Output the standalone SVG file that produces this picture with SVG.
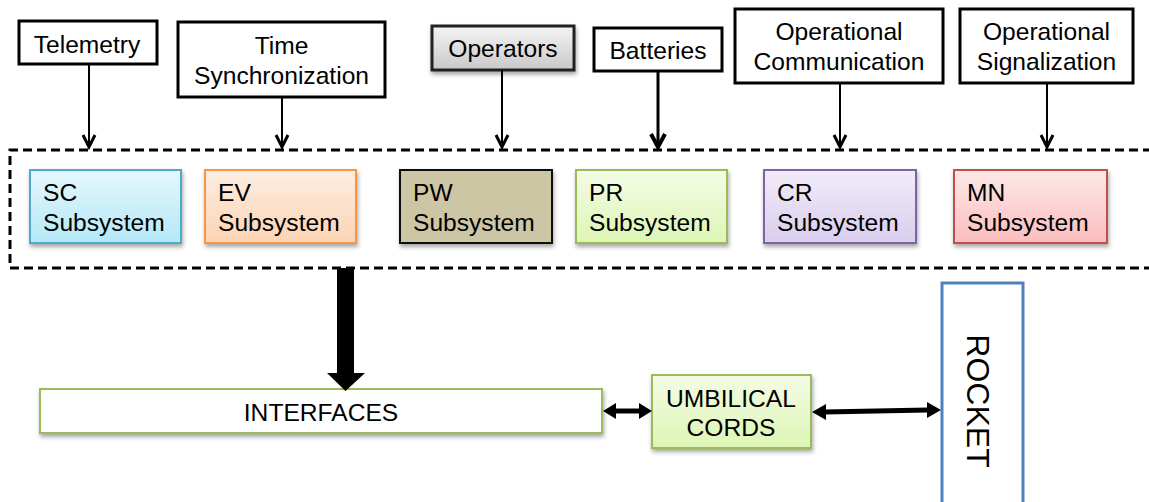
<svg xmlns="http://www.w3.org/2000/svg" width="1149" height="502" viewBox="0 0 1149 502">
  <style>
    text { font-family: "Liberation Sans", Arial, sans-serif; font-size: 24.6px; fill: #000; }
    .mid { text-anchor: middle; }
    .src { fill: #fff; stroke: #000; stroke-width: 3; }
    .sub { stroke-width: 2; filter: url(#shadow); }
    .thin { fill: none; stroke: #000; stroke-width: 2; }
    .head { fill: none; stroke: #000; stroke-width: 3; stroke-linejoin: miter; }
    .bold { fill: none; stroke: #000; stroke-width: 5; }
  </style>
  <defs>
    <filter id="shadow" x="-10%" y="-20%" width="130%" height="160%">
      <feDropShadow dx="1" dy="3" stdDeviation="2" flood-color="#000" flood-opacity="0.35"/>
    </filter>
    <linearGradient id="gGray" x1="0" y1="0" x2="0" y2="1">
      <stop offset="0" stop-color="#f4f4f4"/>
      <stop offset="1" stop-color="#c9c9c9"/>
    </linearGradient>
    <linearGradient id="gBlue" x1="0" y1="0" x2="0" y2="1">
      <stop offset="0" stop-color="#e6f7fd"/>
      <stop offset="1" stop-color="#b3e8f7"/>
    </linearGradient>
    <linearGradient id="gOrange" x1="0" y1="0" x2="0" y2="1">
      <stop offset="0" stop-color="#fdeee2"/>
      <stop offset="1" stop-color="#fcd3b3"/>
    </linearGradient>
    <linearGradient id="gGreen" x1="0" y1="0" x2="0" y2="1">
      <stop offset="0" stop-color="#f4fce6"/>
      <stop offset="1" stop-color="#ddf5b5"/>
    </linearGradient>
    <linearGradient id="gPurple" x1="0" y1="0" x2="0" y2="1">
      <stop offset="0" stop-color="#f1ecf8"/>
      <stop offset="1" stop-color="#d9cdee"/>
    </linearGradient>
    <linearGradient id="gRed" x1="0" y1="0" x2="0" y2="1">
      <stop offset="0" stop-color="#fde8e8"/>
      <stop offset="1" stop-color="#fbbdbd"/>
    </linearGradient>
  </defs>

  <rect width="1149" height="502" fill="#fff"/>

  <!-- input sources -->
  <g id="telemetry">
    <rect class="src" x="19" y="21" width="138" height="43"/>
    <text class="mid" x="87" y="53">Telemetry</text>
  </g>
  <g id="time-sync">
    <rect class="src" x="178" y="22" width="207" height="75"/>
    <text class="mid" x="281.5" y="54">Time</text>
    <text class="mid" x="281.5" y="84">Synchronization</text>
  </g>
  <g id="operators">
    <rect x="432" y="26" width="142" height="44" fill="url(#gGray)" stroke="#222" stroke-width="3" filter="url(#shadow)"/>
    <text class="mid" x="503" y="57">Operators</text>
  </g>
  <g id="batteries">
    <rect class="src" x="594" y="28" width="128" height="43"/>
    <text class="mid" x="658" y="59">Batteries</text>
  </g>
  <g id="op-communication">
    <rect class="src" x="735" y="9" width="208" height="74"/>
    <text class="mid" x="839" y="40">Operational</text>
    <text class="mid" x="839" y="70">Communication</text>
  </g>
  <g id="op-signalization">
    <rect class="src" x="960" y="9" width="173" height="74"/>
    <text class="mid" x="1046.5" y="40">Operational</text>
    <text class="mid" x="1046.5" y="70">Signalization</text>
  </g>

  <!-- ground segment boundary -->
  <g id="ground-segment">
    <path d="M1152,150 H10 V268 H1152" fill="none" stroke="#000" stroke-width="3" stroke-dasharray="9 5"/>
  </g>

  <!-- subsystems -->
  <g id="sc-subsystem">
    <rect class="sub" x="30" y="170" width="151" height="73" fill="url(#gBlue)" stroke="#4bacc6"/>
    <text x="43" y="201">SC</text>
    <text x="43" y="231">Subsystem</text>
  </g>
  <g id="ev-subsystem">
    <rect class="sub" x="205" y="170" width="151" height="73" fill="url(#gOrange)" stroke="#f79646"/>
    <text x="218" y="201">EV</text>
    <text x="218" y="231">Subsystem</text>
  </g>
  <g id="pw-subsystem">
    <rect class="sub" x="400" y="170" width="152" height="73" fill="#cdc6a5" stroke="#111"/>
    <text x="413" y="201">PW</text>
    <text x="413" y="231">Subsystem</text>
  </g>
  <g id="pr-subsystem">
    <rect class="sub" x="576" y="170" width="151" height="73" fill="url(#gGreen)" stroke="#9bbb59"/>
    <text x="589" y="201">PR</text>
    <text x="589" y="231">Subsystem</text>
  </g>
  <g id="cr-subsystem">
    <rect class="sub" x="764" y="170" width="152" height="73" fill="url(#gPurple)" stroke="#8064a2"/>
    <text x="777" y="201">CR</text>
    <text x="777" y="231">Subsystem</text>
  </g>
  <g id="mn-subsystem">
    <rect class="sub" x="954" y="170" width="153" height="73" fill="url(#gRed)" stroke="#c0504d"/>
    <text x="967" y="201">MN</text>
    <text x="967" y="231">Subsystem</text>
  </g>

  <!-- lower blocks -->
  <g id="interfaces">
    <rect x="40" y="389" width="562" height="44" fill="#fff" stroke="#9bbb59" stroke-width="2" filter="url(#shadow)"/>
    <text class="mid" x="321" y="421">INTERFACES</text>
  </g>
  <g id="umbilical-cords">
    <rect x="652" y="375" width="159" height="73" fill="url(#gGreen)" stroke="#9bbb59" stroke-width="2" filter="url(#shadow)"/>
    <text class="mid" x="731" y="407">UMBILICAL</text>
    <text class="mid" x="731" y="436">CORDS</text>
  </g>
  <g id="rocket">
    <rect x="942" y="283" width="81" height="225" fill="#fff" stroke="#4f81bd" stroke-width="3"/>
    <text class="mid" transform="translate(967,401) rotate(90)" style="font-size:32px">ROCKET</text>
  </g>

  <!-- connectors -->
  <g id="connectors">
    <line class="thin" x1="89" y1="64" x2="89" y2="147"/>
    <polyline class="head" points="83,135 89,147 95,135"/>
    <line class="thin" x1="282" y1="97" x2="282" y2="147"/>
    <polyline class="head" points="276,135 282,147 288,135"/>
    <line class="thin" x1="502" y1="70" x2="502" y2="147"/>
    <polyline class="head" points="496,135 502,147 508,135"/>
    <line x1="658" y1="71" x2="658" y2="147" stroke="#000" stroke-width="3"/>
    <polyline class="head" points="651,134 658,147 665,134" style="stroke-width:4"/>
    <line class="thin" x1="840" y1="83" x2="840" y2="147"/>
    <polyline class="head" points="834,135 840,147 846,135"/>
    <line class="thin" x1="1047" y1="83" x2="1047" y2="147"/>
    <polyline class="head" points="1041,135 1047,147 1053,135"/>

    <!-- subsystems to interfaces -->
    <polygon points="337,268 354,268 354,373 365,373 345.5,391 327,373 337,373" fill="#000"/>

    <!-- interfaces <-> umbilical cords -->
    <line class="bold" x1="614" y1="411" x2="641" y2="411"/>
    <polygon points="603,411 616,403 616,419" fill="#000"/>
    <polygon points="652,411 639,403 639,419" fill="#000"/>

    <!-- umbilical cords <-> rocket -->
    <line class="bold" x1="824" y1="412" x2="928" y2="410"/>
    <polygon points="812,412 826,404 826,420" fill="#000"/>
    <polygon points="941,410 927,402 927,418" fill="#000"/>
  </g>
</svg>
